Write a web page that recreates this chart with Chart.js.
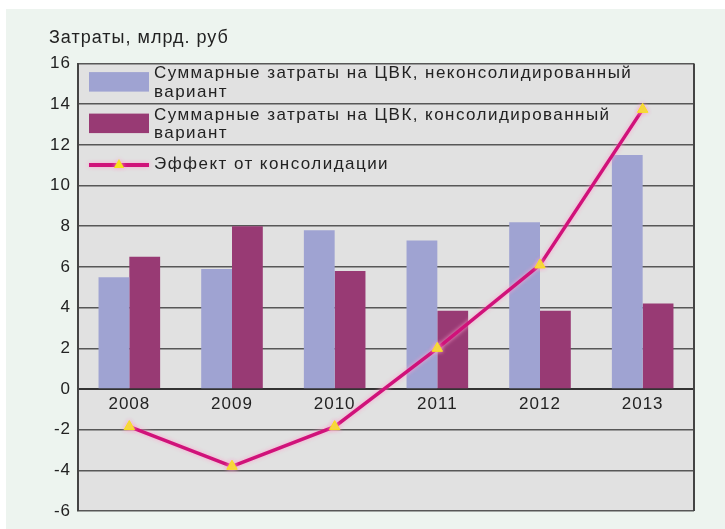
<!DOCTYPE html>
<html lang="ru">
<head>
  <meta charset="UTF-8">
  <title>Затраты на ЦВК</title>
  <style>
    body { margin: 0; background: #fff; }
    #wrap { position: absolute; left: 6px; top: 9px; width: 719px; height: 520px; background: #edf4ef; }
  </style>
  <script src="https://cdn.jsdelivr.net/npm/chart.js"></script>
</head>
<body>
  <div id="wrap"><canvas id="costChart" width="719" height="520"></canvas></div>

  <script>
    // Chart data, bn rub
    const years = ['2008', '2009', '2010', '2011', '2012', '2013'];
    const nonConsolidated = [5.5, 5.9, 7.8, 7.3, 8.2, 11.5];
    const consolidated = [6.5, 8.0, 5.8, 3.85, 3.85, 4.2];
    const consolidationEffect = [-1.85, -3.8, -1.85, 2.0, 6.1, 13.75];
    const yRange = [-6, 16];
    const yStep = 2;
    const seriesNames = [
      'Суммарные затраты на ЦВК, неконсолидированный\nвариант',
      'Суммарные затраты на ЦВК, консолидированный\nвариант',
      'Эффект от консолидации'
    ];

    const FONT = '"Liberation Sans", Arial, sans-serif';
    const SPACING = '1px';
    const TEXT = '#222';
    const BLUE = '#9fa3d2';
    const PLUM = '#983a74';
    const MAGENTA = '#d0127a';
    const YELLOW = '#f6e31c';

    // letter spacing for every text drawn on the canvas (state gets reset on resize)
    const spacing = {
      id: 'spacing',
      beforeUpdate(chart) { chart.ctx.letterSpacing = SPACING; },
      beforeDraw(chart) { chart.ctx.letterSpacing = SPACING; }
    };

    // grey plot background + right frame
    const plotFrame = {
      id: 'plotFrame',
      beforeDraw(chart) {
        const { ctx, chartArea: a } = chart;
        ctx.save();
        ctx.fillStyle = '#e1e1e1';
        ctx.fillRect(a.left, a.top, a.right - a.left, a.bottom - a.top);
        ctx.restore();
      },
      afterDraw(chart) {
        const { ctx, chartArea: a } = chart;
        ctx.save();
        ctx.strokeStyle = '#444';
        ctx.lineWidth = 2;
        ctx.beginPath();
        ctx.moveTo(a.right, a.top);
        ctx.lineTo(a.right, a.bottom);
        ctx.stroke();
        ctx.restore();
      }
    };

    // pink halo around the effect line
    const lineGlow = {
      id: 'lineGlow',
      beforeDatasetDraw(chart, args) {
        if (chart.data.datasets[args.index].type !== 'line') return;
        const ctx = chart.ctx;
        ctx.save();
        ctx.shadowColor = 'rgba(255, 160, 205, 0.95)';
        ctx.shadowBlur = 4;
      },
      afterDatasetDraw(chart, args) {
        if (chart.data.datasets[args.index].type !== 'line') return;
        chart.ctx.restore();
      }
    };

    function triangle(ctx, x, y, r) {
      ctx.beginPath();
      ctx.moveTo(x, y - r);
      ctx.lineTo(x + r * 0.87, y + r * 0.5);
      ctx.lineTo(x - r * 0.87, y + r * 0.5);
      ctx.closePath();
      ctx.fill();
    }

    // legend sits inside the plot, over the grid
    const plotLegend = {
      id: 'plotLegend',
      afterDatasetsDraw(chart) {
        const { ctx, chartArea: a } = chart;
        const rowTops = [a.top + 1, a.top + 42.5, a.top + 92];
        const x0 = a.left + 11;
        const textX = a.left + 76;
        ctx.save();
        ctx.font = '17px ' + FONT;
        ctx.letterSpacing = '1.45px';
        ctx.textBaseline = 'middle';
        chart.data.datasets.forEach((ds, i) => {
          const top = rowTops[i];
          if (ds.type === 'line') {
            const y = top + 9.5;
            ctx.save();
            ctx.shadowColor = 'rgba(255, 160, 205, 0.95)';
            ctx.shadowBlur = 4;
            ctx.strokeStyle = ds.borderColor;
            ctx.lineWidth = 4;
            ctx.beginPath();
            ctx.moveTo(x0, y);
            ctx.lineTo(x0 + 60, y);
            ctx.stroke();
            ctx.fillStyle = YELLOW;
            triangle(ctx, x0 + 30, y, 6);
            ctx.restore();
          } else {
            ctx.fillStyle = ds.backgroundColor;
            ctx.fillRect(x0, top + 7.5, 60, 19.5);
          }
          ctx.fillStyle = TEXT;
          ds.label.split('\n').forEach((line, k) => {
            ctx.fillText(line, textX, top + 9 + k * 18.5);
          });
        });
        ctx.restore();
      }
    };

    new Chart(document.getElementById('costChart'), {
      data: {
        labels: years,
        datasets: [
          {
            type: 'bar',
            label: seriesNames[0],
            data: nonConsolidated,
            backgroundColor: BLUE,
            order: 1
          },
          {
            type: 'bar',
            label: seriesNames[1],
            data: consolidated,
            backgroundColor: PLUM,
            order: 1
          },
          {
            type: 'line',
            label: seriesNames[2],
            data: consolidationEffect,
            borderColor: MAGENTA,
            borderWidth: 3.5,
            tension: 0,
            pointStyle: 'triangle',
            pointRadius: 6,
            pointBackgroundColor: YELLOW,
            pointBorderColor: YELLOW,
            pointBorderWidth: 1,
            order: 0
          }
        ]
      },
      options: {
        responsive: false,
        animation: false,
        datasets: {
          bar: { categoryPercentage: 0.6, barPercentage: 1.0 }
        },
        layout: { padding: { left: 43, right: 31, top: 0, bottom: 18 } },
        plugins: {
          legend: { display: false },
          tooltip: { enabled: false },
          title: {
            display: true,
            text: 'Затраты, млрд. руб',
            align: 'start',
            color: TEXT,
            font: { family: FONT, size: 18, weight: 'normal' },
            padding: { top: 18, bottom: 15 }
          }
        },
        scales: {
          x: {
            position: { y: 0 },
            grid: { display: false, drawTicks: false },
            border: { display: true, color: '#333', width: 2 },
            ticks: { color: TEXT, padding: 5, font: { family: FONT, size: 17 } }
          },
          y: {
            min: yRange[0],
            max: yRange[1],
            afterFit(scale) { scale.width = 29; },
            grid: { color: '#575757', lineWidth: 1.6, drawTicks: false },
            border: { display: true, color: '#444', width: 2 },
            ticks: { stepSize: yStep, color: TEXT, padding: 7, font: { family: FONT, size: 17 } }
          }
        }
      },
      plugins: [spacing, plotFrame, lineGlow, plotLegend]
    });
  </script>
</body>
</html>
